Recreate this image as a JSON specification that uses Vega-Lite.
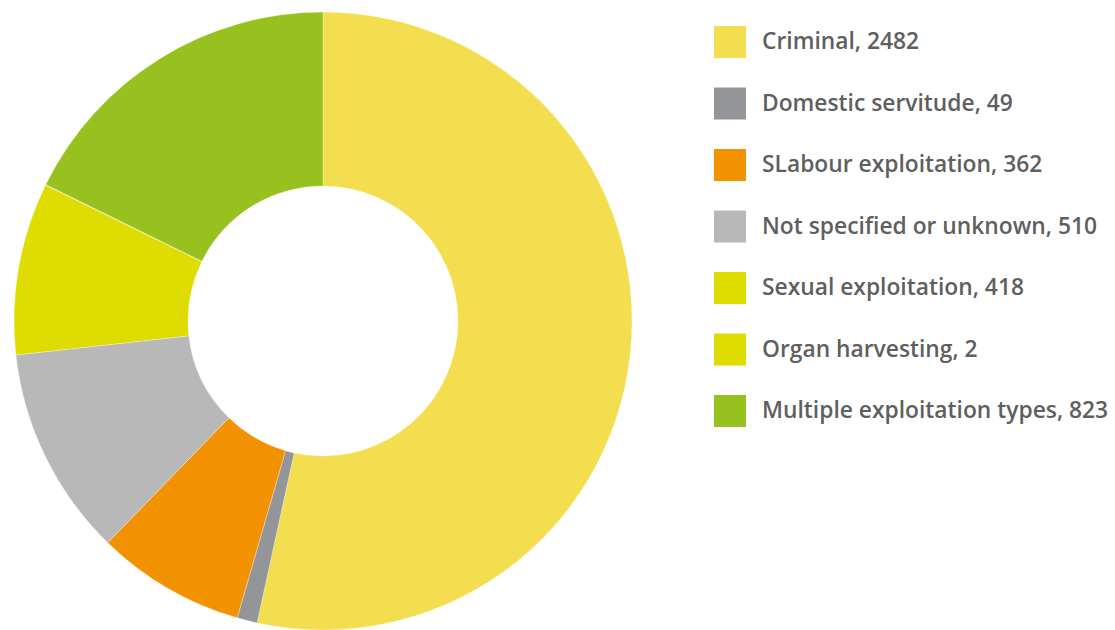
{
  "$schema": "https://vega.github.io/schema/vega-lite/v6.json",
  "width": 618,
  "height": 618,
  "autosize": "none",
  "padding": {"left": 14, "top": 12, "right": 483, "bottom": 0},
  "background": "white",
  "data": {
    "values": [
      {"label": "Criminal, 2482", "value": 2482, "order": 1},
      {"label": "Domestic servitude, 49", "value": 49, "order": 2},
      {"label": "SLabour exploitation, 362", "value": 362, "order": 3},
      {"label": "Not specified or unknown, 510", "value": 510, "order": 4},
      {"label": "Sexual exploitation, 418", "value": 418, "order": 5},
      {"label": "Organ harvesting, 2", "value": 2, "order": 6},
      {"label": "Multiple exploitation types, 823", "value": 823, "order": 7}
    ]
  },
  "mark": {"type": "arc", "innerRadius": 135, "outerRadius": 309, "stroke": "white", "strokeWidth": 0.3},
  "encoding": {
    "theta": {"field": "value", "type": "quantitative", "stack": true},
    "order": {"field": "order", "type": "quantitative"},
    "color": {
      "field": "label",
      "type": "nominal",
      "sort": null,
      "scale": {
        "domain": ["Criminal, 2482", "Domestic servitude, 49", "SLabour exploitation, 362", "Not specified or unknown, 510", "Sexual exploitation, 418", "Organ harvesting, 2", "Multiple exploitation types, 823"],
        "range": ["#F2DE4E", "#939598", "#F39200", "#B8B8B8", "#DEDC00", "#DEDC00", "#97C11F"]
      },
      "legend": {
        "title": null,
        "orient": "none",
        "legendX": 700,
        "legendY": 14,
        "symbolType": "square",
        "symbolSize": 1024,
        "symbolStrokeWidth": 0,
        "symbolOpacity": 1,
        "labelFont": "Open Sans",
        "labelFontSize": 22.8,
        "labelFontWeight": 600,
        "labelColor": "#5f5f5f",
        "labelOffset": 16,
        "labelLimit": 500,
        "rowPadding": 29.5,
        "padding": 0
      }
    }
  },
  "config": {"view": {"stroke": null}}
}
